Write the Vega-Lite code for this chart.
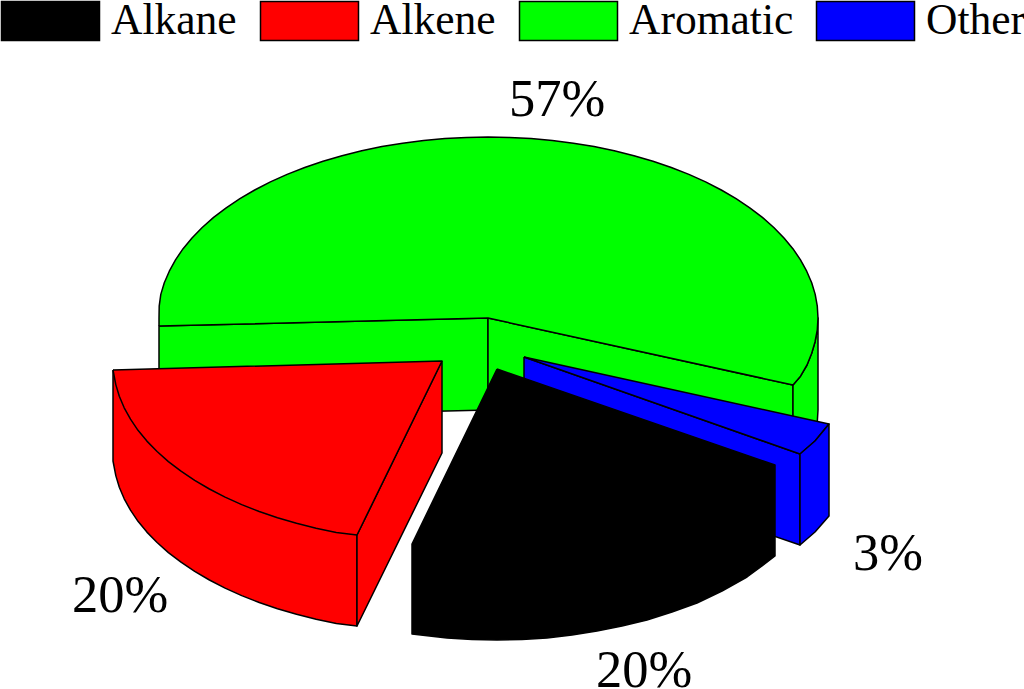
{"$schema":"https://vega.github.io/schema/vega-lite/v6.json","width":1024,"height":689,"padding":0,"autosize":{"type":"none"},"background":"white","view":{"stroke":null},
"layer":[
{"data":{"values":[
{"s":"Aromatic","p":"g1","i":1,"x":159,"y":418},{"s":"Aromatic","p":"g1","i":2,"x":159,"y":326},{"s":"Aromatic","p":"g1","i":3,"x":488,"y":318},{"s":"Aromatic","p":"g1","i":4,"x":488,"y":410},{"s":"Aromatic","p":"g1","i":5,"x":159,"y":418},
{"s":"Aromatic","p":"g2","i":1,"x":488,"y":318},{"s":"Aromatic","p":"g2","i":2,"x":793,"y":385},{"s":"Aromatic","p":"g2","i":3,"x":793,"y":477},{"s":"Aromatic","p":"g2","i":4,"x":488,"y":410},{"s":"Aromatic","p":"g2","i":5,"x":488,"y":318},
{"s":"Aromatic","p":"g3","i":1,"x":793,"y":385},{"s":"Aromatic","p":"g3","i":1.5,"x":800.5,"y":376.2},{"s":"Aromatic","p":"g3","i":2,"x":807,"y":365},{"s":"Aromatic","p":"g3","i":2.5,"x":811.7,"y":353.3},{"s":"Aromatic","p":"g3","i":3,"x":815,"y":342},{"s":"Aromatic","p":"g3","i":3.5,"x":817.3,"y":329.8},{"s":"Aromatic","p":"g3","i":4,"x":818,"y":318},{"s":"Aromatic","p":"g3","i":5,"x":818,"y":410},{"s":"Aromatic","p":"g3","i":5.5,"x":817.3,"y":421.8},{"s":"Aromatic","p":"g3","i":6,"x":815,"y":434},{"s":"Aromatic","p":"g3","i":7,"x":807,"y":457},{"s":"Aromatic","p":"g3","i":8,"x":793,"y":477},{"s":"Aromatic","p":"g3","i":9,"x":793,"y":385},
{"s":"Aromatic","p":"g4","i":1,"x":159,"y":326},{"s":"Aromatic","p":"g4","i":2,"x":159,"y":318},{"s":"Aromatic","p":"g4","i":2.5,"x":159.2,"y":306.2},{"s":"Aromatic","p":"g4","i":3,"x":160.8,"y":294.4},{"s":"Aromatic","p":"g4","i":3.5,"x":164.3,"y":282.7},{"s":"Aromatic","p":"g4","i":4,"x":169.3,"y":271.2},{"s":"Aromatic","p":"g4","i":4.5,"x":175.5,"y":259.8},{"s":"Aromatic","p":"g4","i":5,"x":183.1,"y":248.7},{"s":"Aromatic","p":"g4","i":5.5,"x":192,"y":238},{"s":"Aromatic","p":"g4","i":6,"x":202.2,"y":227.5},{"s":"Aromatic","p":"g4","i":6.5,"x":213.6,"y":217.4},{"s":"Aromatic","p":"g4","i":7,"x":226.2,"y":207.8},{"s":"Aromatic","p":"g4","i":7.5,"x":239.9,"y":198.7},{"s":"Aromatic","p":"g4","i":8,"x":254.7,"y":190},{"s":"Aromatic","p":"g4","i":8.5,"x":270.4,"y":181.9},{"s":"Aromatic","p":"g4","i":9,"x":287.1,"y":174.4},{"s":"Aromatic","p":"g4","i":9.5,"x":304.7,"y":167.5},{"s":"Aromatic","p":"g4","i":10,"x":323,"y":161.3},{"s":"Aromatic","p":"g4","i":10.5,"x":342,"y":155.7},{"s":"Aromatic","p":"g4","i":11,"x":361.7,"y":150.8},{"s":"Aromatic","p":"g4","i":11.5,"x":381.9,"y":146.6},{"s":"Aromatic","p":"g4","i":12,"x":402.6,"y":143.2},{"s":"Aromatic","p":"g4","i":12.5,"x":423.6,"y":140.5},{"s":"Aromatic","p":"g4","i":13,"x":444.9,"y":138.6},{"s":"Aromatic","p":"g4","i":13.5,"x":466.4,"y":137.4},{"s":"Aromatic","p":"g4","i":14,"x":488,"y":137},{"s":"Aromatic","p":"g4","i":14.5,"x":509.6,"y":137.4},{"s":"Aromatic","p":"g4","i":15,"x":531.1,"y":138.6},{"s":"Aromatic","p":"g4","i":15.5,"x":552.4,"y":140.5},{"s":"Aromatic","p":"g4","i":16,"x":573.4,"y":143.2},{"s":"Aromatic","p":"g4","i":16.5,"x":594.1,"y":146.6},{"s":"Aromatic","p":"g4","i":17,"x":614.3,"y":150.8},{"s":"Aromatic","p":"g4","i":17.5,"x":634,"y":155.7},{"s":"Aromatic","p":"g4","i":18,"x":653,"y":161.3},{"s":"Aromatic","p":"g4","i":18.5,"x":671.3,"y":167.5},{"s":"Aromatic","p":"g4","i":19,"x":688.9,"y":174.4},{"s":"Aromatic","p":"g4","i":19.5,"x":705.6,"y":181.9},{"s":"Aromatic","p":"g4","i":20,"x":721.3,"y":190},{"s":"Aromatic","p":"g4","i":20.5,"x":736.1,"y":198.7},{"s":"Aromatic","p":"g4","i":21,"x":749.8,"y":207.8},{"s":"Aromatic","p":"g4","i":21.5,"x":762.4,"y":217.4},{"s":"Aromatic","p":"g4","i":22,"x":773.8,"y":227.5},{"s":"Aromatic","p":"g4","i":22.5,"x":784,"y":238},{"s":"Aromatic","p":"g4","i":23,"x":792.9,"y":248.7},{"s":"Aromatic","p":"g4","i":23.5,"x":800.5,"y":259.8},{"s":"Aromatic","p":"g4","i":24,"x":806.7,"y":271.2},{"s":"Aromatic","p":"g4","i":24.5,"x":811.7,"y":282.7},{"s":"Aromatic","p":"g4","i":25,"x":815.2,"y":294.4},{"s":"Aromatic","p":"g4","i":25.5,"x":817.3,"y":306.2},{"s":"Aromatic","p":"g4","i":26,"x":818,"y":318},{"s":"Aromatic","p":"g4","i":26.5,"x":817.3,"y":329.8},{"s":"Aromatic","p":"g4","i":27,"x":815,"y":342},{"s":"Aromatic","p":"g4","i":27.5,"x":811.7,"y":353.3},{"s":"Aromatic","p":"g4","i":28,"x":807,"y":365},{"s":"Aromatic","p":"g4","i":28.5,"x":800.5,"y":376.2},{"s":"Aromatic","p":"g4","i":29,"x":793,"y":385},{"s":"Aromatic","p":"g4","i":30,"x":488,"y":318},{"s":"Aromatic","p":"g4","i":31,"x":159,"y":326},
{"s":"Other","p":"b1","i":1,"x":524,"y":357},{"s":"Other","p":"b1","i":2,"x":800,"y":454},{"s":"Other","p":"b1","i":3,"x":800,"y":545},{"s":"Other","p":"b1","i":4,"x":524,"y":450},{"s":"Other","p":"b1","i":5,"x":524,"y":357},
{"s":"Other","p":"b2","i":1,"x":524,"y":357},{"s":"Other","p":"b2","i":2,"x":829,"y":424},{"s":"Other","p":"b2","i":3,"x":815,"y":441},{"s":"Other","p":"b2","i":4,"x":800,"y":454},{"s":"Other","p":"b2","i":5,"x":524,"y":357},
{"s":"Other","p":"b3","i":1,"x":800,"y":454},{"s":"Other","p":"b3","i":2,"x":815,"y":441},{"s":"Other","p":"b3","i":3,"x":829,"y":424},{"s":"Other","p":"b3","i":4,"x":829,"y":516},{"s":"Other","p":"b3","i":5,"x":815,"y":532},{"s":"Other","p":"b3","i":6,"x":800,"y":545},{"s":"Other","p":"b3","i":7,"x":800,"y":454},
{"s":"Alkane","p":"k1","i":1,"x":497,"y":369},{"s":"Alkane","p":"k1","i":2,"x":775,"y":465},{"s":"Alkane","p":"k1","i":3,"x":775,"y":556},{"s":"Alkane","p":"k1","i":4,"x":762,"y":566},{"s":"Alkane","p":"k1","i":5,"x":747,"y":577},{"s":"Alkane","p":"k1","i":6,"x":722,"y":591},{"s":"Alkane","p":"k1","i":7,"x":697,"y":603},{"s":"Alkane","p":"k1","i":8,"x":672,"y":612},{"s":"Alkane","p":"k1","i":9,"x":647,"y":620},{"s":"Alkane","p":"k1","i":10,"x":622,"y":626},{"s":"Alkane","p":"k1","i":11,"x":597,"y":631},{"s":"Alkane","p":"k1","i":12,"x":572,"y":635},{"s":"Alkane","p":"k1","i":13,"x":547,"y":638},{"s":"Alkane","p":"k1","i":14,"x":522,"y":639.5},{"s":"Alkane","p":"k1","i":15,"x":497,"y":640},{"s":"Alkane","p":"k1","i":16,"x":472,"y":639.5},{"s":"Alkane","p":"k1","i":17,"x":447,"y":638},{"s":"Alkane","p":"k1","i":18,"x":412,"y":634},{"s":"Alkane","p":"k1","i":19,"x":412,"y":544},{"s":"Alkane","p":"k1","i":20,"x":497,"y":369},
{"s":"Alkene","p":"r1","i":1,"x":113,"y":370},{"s":"Alkene","p":"r1","i":2,"x":113,"y":461},{"s":"Alkene","p":"r1","i":3,"x":115.8,"y":475.6},{"s":"Alkene","p":"r1","i":3.5,"x":119.3,"y":487.3},{"s":"Alkene","p":"r1","i":4,"x":124.2,"y":498.8},{"s":"Alkene","p":"r1","i":4.5,"x":130.5,"y":510.2},{"s":"Alkene","p":"r1","i":5,"x":138,"y":521.3},{"s":"Alkene","p":"r1","i":5.5,"x":146.9,"y":532.1},{"s":"Alkene","p":"r1","i":6,"x":157.1,"y":542.5},{"s":"Alkene","p":"r1","i":6.5,"x":168.4,"y":552.6},{"s":"Alkene","p":"r1","i":7,"x":181,"y":562.2},{"s":"Alkene","p":"r1","i":7.5,"x":194.7,"y":571.3},{"s":"Alkene","p":"r1","i":8,"x":209.4,"y":580},{"s":"Alkene","p":"r1","i":8.5,"x":225.1,"y":588.1},{"s":"Alkene","p":"r1","i":9,"x":241.7,"y":595.6},{"s":"Alkene","p":"r1","i":9.5,"x":259.2,"y":602.5},{"s":"Alkene","p":"r1","i":10,"x":277.5,"y":608.7},{"s":"Alkene","p":"r1","i":10.5,"x":296.5,"y":614.3},{"s":"Alkene","p":"r1","i":11,"x":316.1,"y":619.2},{"s":"Alkene","p":"r1","i":11.5,"x":336.3,"y":623.4},{"s":"Alkene","p":"r1","i":12,"x":357,"y":626},{"s":"Alkene","p":"r1","i":13,"x":357,"y":535},{"s":"Alkene","p":"r1","i":14,"x":113,"y":370},
{"s":"Alkene","p":"r2","i":1,"x":442,"y":361},{"s":"Alkene","p":"r2","i":2,"x":442,"y":453},{"s":"Alkene","p":"r2","i":3,"x":357,"y":626},{"s":"Alkene","p":"r2","i":4,"x":357,"y":535},{"s":"Alkene","p":"r2","i":5,"x":442,"y":361},
{"s":"Alkene","p":"r3","i":1,"x":113,"y":370},{"s":"Alkene","p":"r3","i":2,"x":442,"y":361},{"s":"Alkene","p":"r3","i":3,"x":357,"y":535},{"s":"Alkene","p":"r3","i":3.5,"x":336.3,"y":532.4},{"s":"Alkene","p":"r3","i":4,"x":316.1,"y":528.2},{"s":"Alkene","p":"r3","i":4.5,"x":296.5,"y":523.3},{"s":"Alkene","p":"r3","i":5,"x":277.5,"y":517.7},{"s":"Alkene","p":"r3","i":5.5,"x":259.2,"y":511.5},{"s":"Alkene","p":"r3","i":6,"x":241.7,"y":504.6},{"s":"Alkene","p":"r3","i":6.5,"x":225.1,"y":497.1},{"s":"Alkene","p":"r3","i":7,"x":209.4,"y":489},{"s":"Alkene","p":"r3","i":7.5,"x":194.7,"y":480.3},{"s":"Alkene","p":"r3","i":8,"x":181,"y":471.2},{"s":"Alkene","p":"r3","i":8.5,"x":168.4,"y":461.6},{"s":"Alkene","p":"r3","i":9,"x":157.1,"y":451.5},{"s":"Alkene","p":"r3","i":9.5,"x":146.9,"y":441.1},{"s":"Alkene","p":"r3","i":10,"x":138,"y":430.3},{"s":"Alkene","p":"r3","i":10.5,"x":130.5,"y":419.2},{"s":"Alkene","p":"r3","i":11,"x":124.2,"y":407.8},{"s":"Alkene","p":"r3","i":11.5,"x":119.3,"y":396.3},{"s":"Alkene","p":"r3","i":12,"x":115.8,"y":384.6},{"s":"Alkene","p":"r3","i":13,"x":113,"y":370}
]},
"mark":{"type":"line","stroke":"black","strokeWidth":1.5,"strokeJoin":"round","clip":false},
"encoding":{
"x":{"field":"x","type":"quantitative","scale":{"domain":[0,1024],"nice":false,"zero":false},"axis":null},
"y":{"field":"y","type":"quantitative","scale":{"domain":[689,0],"nice":false,"zero":false},"axis":null},
"fill":{"field":"s","type":"nominal","sort":null,"scale":{"domain":["Alkane","Alkene","Aromatic","Other"],"range":["#000000","#ff0000","#00ff00","#0000ff"]},
"legend":{"title":null,"orient":"none","legendX":0.5,"legendY":-29,"direction":"horizontal","columns":4,"gridAlign":"none","columnPadding":20,"labelFont":"Liberation Serif","labelFontSize":43.5,"labelColor":"#000000","labelOffset":10.5,"symbolType":"M-1,-0.4H1V0.4H-1Z","symbolSize":9604,"symbolStrokeColor":"#000000","symbolStrokeWidth":1.5,"labelLimit":300,"symbolOpacity":1}},
"detail":{"field":"p"},
"order":{"field":"i","type":"quantitative"}}},
{"data":{"values":[{"x":557,"y":116,"t":"57%"},{"x":888,"y":570,"t":"3%"},{"x":120,"y":612,"t":"20%"},{"x":644,"y":687,"t":"20%"}]},
"mark":{"type":"text","font":"Liberation Serif","fontSize":52.5,"color":"#000000","baseline":"alphabetic","align":"center"},
"encoding":{
"x":{"field":"x","type":"quantitative"},
"y":{"field":"y","type":"quantitative"},
"text":{"field":"t"}}}
]}
